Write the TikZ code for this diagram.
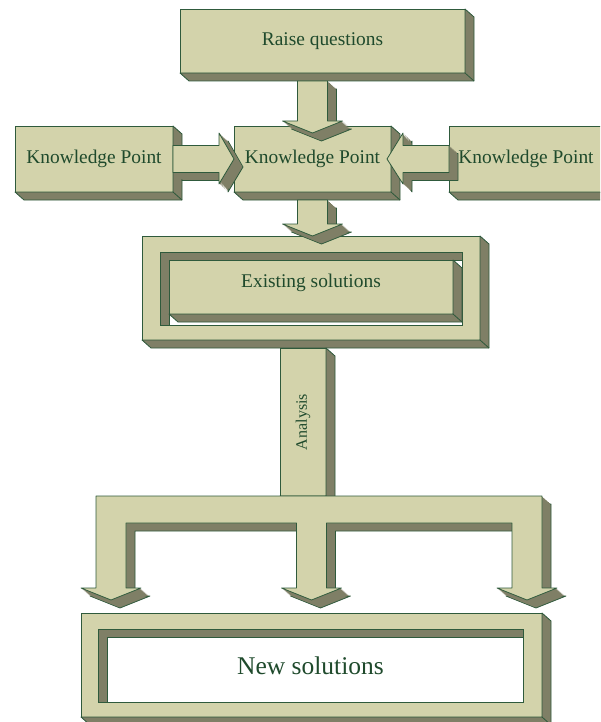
\documentclass[tikz,border=0pt]{standalone}
\usepackage{fontspec}
\setmainfont{Liberation Serif}
\usetikzlibrary{calc, positioning}
\definecolor{faceCol}{HTML}{D3D3AB}
\definecolor{sideCol}{HTML}{7F7F66}
\definecolor{edgeCol}{HTML}{2F5A3C}
\definecolor{textCol}{HTML}{1F4A2C}
\newcommand{\blockFont}{\fontsize{19.4}{23}\selectfont}
\tikzset{
    frontFace/.style={fill=faceCol, draw=edgeCol, line width=0.8pt, line join=round},
    sideFace/.style={fill=sideCol, draw=edgeCol, line width=0.8pt, line join=round},
    edgeLine/.style={draw=edgeCol, line width=0.8pt},
    block/.style={frontFace, inner sep=0pt, outer sep=0pt, text=textCol, font=\blockFont},
    hole/.style={fill=white, draw=edgeCol, line width=0.8pt, inner sep=0pt, outer sep=0pt, text=textCol},
}
% depth of a block: right and down
\newcommand{\extrude}[1]{
    \filldraw[sideFace] (#1.north east) -- ++(9,8) -- ($(#1.south east)+(9,8)$) -- ($(#1.south west)+(9,8)$) -- (#1.south west) -- (#1.south east) -- cycle;
    \draw[edgeLine] (#1.south east) -- ++(9,8);
}
% inner walls of an opening (top and left)
\newcommand{\hollow}[1]{
    \filldraw[sideFace] (#1.north west) -- (#1.north east) -- ++(0,8) -- ($(#1.north west)+(9,8)$) -- ($(#1.south west)+(9,0)$) -- (#1.south west) -- cycle;
}
% any outline pushed back into a solid
\newcommand{\solid}[1]{
    \begin{scope}[transform canvas={shift={(9,8)}}]
        \filldraw[sideFace] #1;
    \end{scope}
    \foreach \s in {7,...,1}{
        \begin{scope}[transform canvas={shift={(\s*9/8,\s)}}]
            \fill[sideCol] #1;
        \end{scope}
    }
    \filldraw[frontFace] #1;
}
\newcommand{\headDown}[1]{($(#1)+(15,0)$) -- ($(#1)+(30,0)$) -- ($(#1)+(0,12)$) -- ($(#1)+(-30,0)$) -- ($(#1)+(-15,0)$)}
\newcommand{\arrowDown}[2]{
    \solid{($(#1)+(15,0)$) -- \headDown{#2} -- ($(#1)+(-15,0)$) -- cycle}
}
\newcommand{\arrowSide}[3]{
    \solid{($(#1)+(0,-13.5)$) -- ($(#2)+(0,-13.5)$) -- ($(#2)+(0,-26)$) -- ($(#2)+(#3,0)$) -- ($(#2)+(0,25)$) -- ($(#2)+(0,13.5)$) -- ($(#1)+(0,13.5)$) -- cycle}
}

\begin{document}
\begin{tikzpicture}[x=1pt, y=-1pt]
    \useasboundingbox (0,0) rectangle (600,722);
    \clip (0,0) rectangle (600,722);

    \node[block, minimum width=285, minimum height=64] (raise) at (322.5,41) {Raise questions};
    \extrude{raise}
    \node[block, minimum width=158, minimum height=66] (kpL) at (94,159) {Knowledge Point};
    \extrude{kpL}
    \node[block, minimum width=157, minimum height=66] (kpC) at (312.5,159) {Knowledge Point};
    \extrude{kpC}
    \node[block, minimum width=154, minimum height=66] (kpR) at (526,159) {Knowledge Point};
    \extrude{kpR}

    \node[block, minimum width=338, minimum height=104] (existFrame) at (311,288) {};
    \extrude{existFrame}
    \node[hole, minimum width=302, minimum height=73] (existHole) at (311,288.5) {};
    \hollow{existHole}
    \node[block, minimum width=284, minimum height=54] (exist) at (311,287) {};
    \extrude{exist}
    \node[text=textCol, font=\blockFont] (existTxt) at (311,283) {Existing solutions};

    \node[block, minimum width=46, minimum height=148, font=\fontsize{16}{19}\selectfont] (ana) at (303,422) {\rotatebox{90}{Analysis}};
    \extrude{ana}

    \node[block, minimum width=461, minimum height=104] (newFrame) at (311.5,665) {};
    \extrude{newFrame}
    \node[hole, minimum width=425, minimum height=73, font=\fontsize{25.5}{30}\selectfont] (newHole) at (310.5,665.5) {New solutions};
    \hollow{newHole}

    \coordinate (r1) at ($(kpC.north |- raise.south)+(0,8)$);
    \coordinate (r2) at ($(kpC.north)+(0,-5)$);
    \arrowDown{r1}{r2}
    \coordinate (l1) at (kpL.east);
    \coordinate (l2) at ($(kpC.west)+(-15,0)$);
    \arrowSide{l1}{l2}{15}
    \coordinate (k1) at (kpR.west);
    \coordinate (k2) at ($(kpC.east)+(12,0)$);
    \arrowSide{k1}{k2}{-16}
    \coordinate (c1) at ($(kpC.south)+(0,8)$);
    \coordinate (c2) at ($(kpC.south |- existFrame.north)+(0,-12)$);
    \arrowDown{c1}{c2}

    \coordinate (bL) at ($(newFrame.north west)+(15,-117)$);
    \coordinate (bR) at ($(newFrame.north east)+(0,-117)$);
    \coordinate (hL) at ($(newFrame.north west)+(30,-25)$);
    \coordinate (hM) at ($(newFrame.north)+(0,-25)$);
    \coordinate (hR) at ($(newFrame.north east)+(-15,-25)$);
    \solid{(bL) -- (bR) -- \headDown{hR} -- ($(hR |- bR)+(-15,27)$) -- ($(hM |- bR)+(15,27)$) -- \headDown{hM} -- ($(hM |- bR)+(-15,27)$) -- ($(hL |- bR)+(15,27)$) -- \headDown{hL} -- cycle}

\end{tikzpicture}
\end{document}
